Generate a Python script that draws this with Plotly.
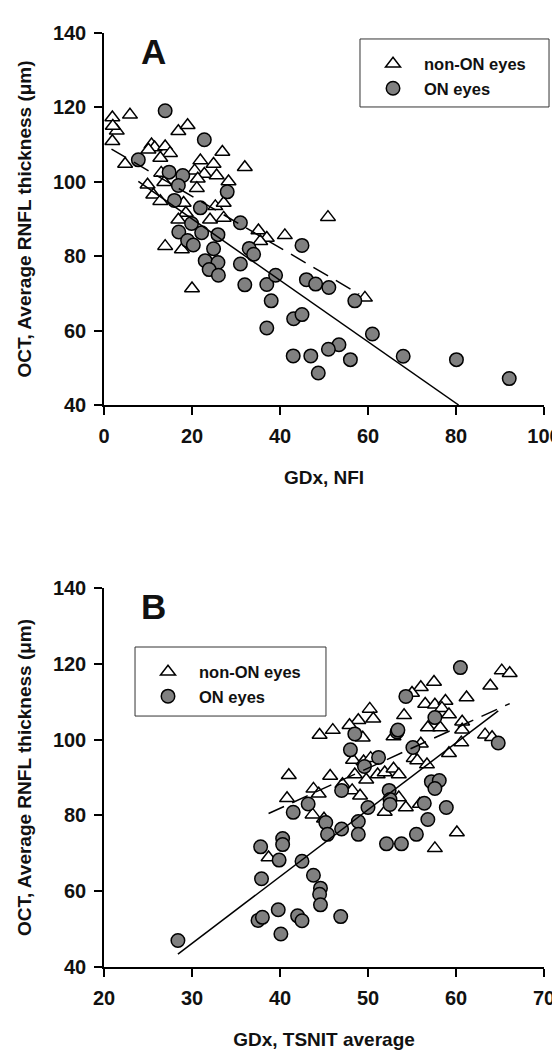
import plotly.graph_objects as go

# ---------------- Panel A data: GDx NFI vs OCT average RNFL ----------------
a_non_x = [1.9, 5.9, 2.9, 1.9, 16.9, 19.0, 10.8, 11.5, 13.9, 15.0, 12.8, 4.8, 10.1,
           21.9, 24.9, 26.9, 32.0, 13.0, 20.6, 22.8, 25.6, 21.3, 28.3, 13.7, 9.9,
           11.2, 12.8, 21.1, 18.1, 25.3, 27.2, 18.6, 24.1, 27.2, 35.1, 37.0, 13.9,
           17.7, 20.0, 50.9, 41.1, 59.3, 2.0, 35.5, 16.9]
a_non_y = [117.3, 118.0, 113.7, 110.9, 113.6, 115.2, 110.0, 109.2, 109.5, 107.7, 106.4,
           104.8, 108.6, 105.7, 104.8, 108.0, 103.9, 102.4, 103.0, 102.1, 101.7, 100.8,
           100.1, 99.9, 99.2, 96.5, 94.8, 98.3, 94.3, 93.4, 94.3, 91.6, 89.8, 90.3,
           86.9, 84.9, 82.7, 81.8, 71.3, 90.5, 85.6, 68.8, 115.0, 84.0, 89.8]

a_on_x = [13.9, 22.8, 7.8, 14.8, 17.9, 16.9, 28.0, 16.0, 21.9, 19.9, 17.0, 19.0, 20.3,
          22.2, 25.9, 31.0, 24.9, 33.0, 34.0, 23.0, 25.9, 31.0, 23.9, 26.0, 32.0, 37.0,
          39.0, 38.0, 45.0, 46.0, 48.1, 51.1, 57.0, 43.1, 45.0, 37.0, 61.0, 56.0, 68.0,
          80.1, 92.1, 53.4, 43.0, 47.0, 48.7, 51.0]
a_on_y = [119.1, 111.3, 105.9, 102.6, 101.7, 99.0, 97.3, 95.0, 93.0, 88.8, 86.5, 84.2,
          83.0, 86.3, 85.8, 89.0, 82.0, 82.1, 80.5, 78.8, 78.3, 77.9, 76.4, 74.9, 72.3,
          72.4, 74.9, 68.0, 82.9, 73.7, 72.5, 71.6, 68.0, 63.2, 64.3, 60.7, 59.1, 52.2,
          53.1, 52.2, 47.1, 56.2, 53.2, 53.2, 48.6, 55.0]

a_fit_on_x = [7.8, 80.6]
a_fit_on_y = [100.1, 40.0]
a_fit_non_x = [1.7, 58.0]
a_fit_non_y = [108.8, 69.8]

# ---------------- Panel B data: GDx TSNIT average vs OCT ----------------
b_non_x = [65.2, 66.1, 63.9, 61.2, 57.5, 56.0, 55.0, 56.5, 57.6, 58.8, 58.4, 59.2, 60.7,
           60.7, 56.8, 58.2, 63.3, 64.1, 60.6, 59.2, 56.0, 55.2, 55.6, 56.7, 54.1, 52.9,
           50.2, 50.6, 48.9, 47.9, 49.4, 44.5, 46.0, 41.0, 40.8, 43.8, 44.4, 43.7, 45.7,
           47.1, 48.2, 48.3, 48.5, 49.1, 49.8, 49.5, 50.3, 51.1, 51.9, 52.9, 53.5, 51.9,
           54.3, 55.9, 60.1, 57.6, 45.0, 38.7, 53.5]
b_non_y = [118.2, 117.5, 114.2, 111.1, 115.2, 113.8, 112.3, 109.4, 109.2, 110.2, 108.3,
           106.6, 104.7, 102.6, 103.2, 103.2, 101.3, 100.6, 99.2, 96.4, 98.9, 95.1, 94.5,
           93.4, 106.4, 100.8, 108.1, 105.5, 105.1, 103.8, 100.5, 101.2, 102.5, 90.6, 84.5,
           87.0, 85.7, 80.2, 90.4, 88.2, 86.6, 94.6, 90.8, 85.2, 89.4, 94.2, 95.1, 90.8,
           91.3, 92.3, 90.8, 80.9, 82.1, 83.0, 75.5, 71.3, 79.1, 68.9, 84.7]

b_on_x = [28.4, 60.5, 54.3, 57.6, 48.5, 53.3, 53.4, 55.1, 48.0, 51.2, 49.6, 50.0, 47.0,
          52.4, 52.5, 52.5, 56.4, 57.2, 58.1, 57.6, 58.9, 64.8, 56.8, 55.5, 53.8, 52.1,
          48.9, 48.9, 47.0, 45.2, 45.4, 41.5, 43.2, 40.3, 40.3, 37.8, 39.9, 42.5, 37.9,
          43.8, 44.6, 44.5, 44.6, 46.9, 37.5, 38.0, 39.8, 40.1, 42.0, 42.5]
b_on_y = [47.0, 119.0, 111.4, 105.8, 101.5, 102.0, 102.5, 97.9, 97.3, 95.3, 92.9, 82.1,
          86.6, 86.6, 84.2, 82.9, 83.2, 88.9, 89.2, 87.1, 82.1, 99.1, 78.9, 75.0, 72.5,
          72.5, 78.4, 75.0, 76.4, 78.1, 75.0, 80.8, 83.0, 73.9, 72.3, 71.7, 68.2, 67.9,
          63.3, 64.2, 60.8, 59.2, 56.4, 53.3, 52.3, 53.1, 55.1, 48.7, 53.5, 52.2]

b_fit_on_x = [28.4, 64.8]
b_fit_on_y = [43.4, 107.6]
b_fit_non_x = [38.7, 66.1]
b_fit_non_y = [80.5, 109.5]

FONT = "Liberation Sans, Arial, Helvetica, sans-serif"
INK = "#111111"
tri = dict(symbol="triangle-up", size=13, color="white", line=dict(color="black", width=1.5))
circ = dict(symbol="circle", size=13.5, color="#808080", line=dict(color="black", width=1.5))

fig = go.Figure()
# Panel A
fig.add_trace(go.Scatter(x=a_non_x, y=a_non_y, mode="markers", marker=tri, name="non-ON eyes",
                         xaxis="x", yaxis="y", legend="legend"))
fig.add_trace(go.Scatter(x=a_on_x, y=a_on_y, mode="markers", marker=circ, name="ON eyes",
                         xaxis="x", yaxis="y", legend="legend"))
fig.add_trace(go.Scatter(x=a_fit_on_x, y=a_fit_on_y, mode="lines", line=dict(color="black", width=1.5),
                         showlegend=False, xaxis="x", yaxis="y"))
fig.add_trace(go.Scatter(x=a_fit_non_x, y=a_fit_non_y, mode="lines",
                         line=dict(color="black", width=1.5, dash="17px,9px"),
                         showlegend=False, xaxis="x", yaxis="y"))
# Panel B
fig.add_trace(go.Scatter(x=b_non_x, y=b_non_y, mode="markers", marker=tri, name="non-ON eyes",
                         xaxis="x2", yaxis="y2", legend="legend2"))
fig.add_trace(go.Scatter(x=b_on_x, y=b_on_y, mode="markers", marker=circ, name="ON eyes",
                         xaxis="x2", yaxis="y2", legend="legend2"))
fig.add_trace(go.Scatter(x=b_fit_on_x, y=b_fit_on_y, mode="lines", line=dict(color="black", width=1.5),
                         showlegend=False, xaxis="x2", yaxis="y2"))
fig.add_trace(go.Scatter(x=b_fit_non_x, y=b_fit_non_y, mode="lines",
                         line=dict(color="black", width=1.5, dash="17px,9px"),
                         showlegend=False, xaxis="x2", yaxis="y2"))

axis_common = dict(showline=True, linecolor="black", linewidth=1.5, ticks="outside", ticklen=8,
                   tickwidth=1.5, tickcolor="black", showgrid=False, zeroline=False,
                   tickfont=dict(family=FONT, size=20, color=INK, weight="bold"),
                   ticklabelstandoff=4, automargin=False)
title_font = dict(family=FONT, size=19, color=INK, weight="bold")
ytitle = "OCT, Average RNFL thickness (\u03bcm)"

legend_common = dict(bgcolor="rgba(0,0,0,0)", borderwidth=0,
                     font=dict(family=FONT, size=16.5, color=INK, weight="bold"),
                     xanchor="left", yanchor="top", itemwidth=52)

box_style = dict(type="rect", xref="paper", yref="paper", layer="above",
                 line=dict(color="#333333", width=1), fillcolor="white")

fig.update_layout(
    width=560, height=1050,
    margin=dict(l=96, r=24, t=25, b=91),
    paper_bgcolor="white", plot_bgcolor="white",
    xaxis=dict(axis_common, range=[0, 100], dtick=20, domain=[0, 1], anchor="y",
               title=dict(text="GDx, NFI", font=title_font, standoff=25)),
    yaxis=dict(axis_common, range=[40, 140], dtick=20, domain=[0.6017, 1], anchor="x",
               title=dict(text=ytitle, font=title_font, standoff=16)),
    xaxis2=dict(axis_common, range=[20, 70], dtick=10, domain=[0, 1], anchor="y2",
                title=dict(text="GDx, TSNIT average", font=title_font, standoff=25)),
    yaxis2=dict(axis_common, range=[40, 140], dtick=20, domain=[0, 0.4058], anchor="x2",
                title=dict(text=ytitle, font=title_font, standoff=16)),
    legend=dict(legend_common, x=0.5864, y=0.9855),
    legend2=dict(legend_common, x=0.075, y=0.3346),
    shapes=[
        dict(box_style, x0=0.5818, x1=1.0114, y0=0.9208, y1=0.9936),
        dict(box_style, x0=0.0705, x1=0.5045, y0=0.2687, y1=0.3426),
    ],
    annotations=[
        dict(text="<b>A</b>", x=11.2, y=135.0, xref="x", yref="y", showarrow=False,
             font=dict(family=FONT, size=35, color=INK)),
        dict(text="<b>B</b>", x=25.6, y=135.1, xref="x2", yref="y2", showarrow=False,
             font=dict(family=FONT, size=35, color=INK)),
    ],
)

fig.write_html("out.html")
